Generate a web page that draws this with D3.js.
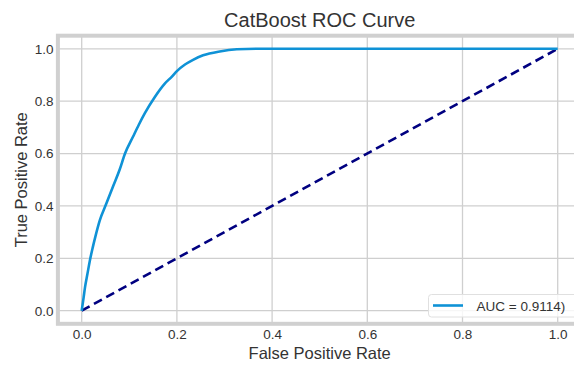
<!DOCTYPE html>
<html>
<head>
<meta charset="utf-8">
<script src="https://cdn.jsdelivr.net/npm/d3@7"></script>
<style>
  body { margin: 0; background: #fff; }
  text { font-family: "Liberation Sans", Arial, sans-serif; fill: #333; }
</style>
</head>
<body>
<div class="container"></div>
<script>
// ROC curve points
const fpr = [0, 0.004, 0.007, 0.012, 0.017, 0.023, 0.029, 0.038, 0.052, 0.066, 0.08, 0.091, 0.108, 0.12, 0.133,
  0.154, 0.175, 0.189, 0.2, 0.217, 0.234, 0.255, 0.29, 0.326, 0.37, 0.5, 1.0];
const tpr = [0, 0.05, 0.09, 0.14, 0.19, 0.24, 0.285, 0.345, 0.41, 0.475, 0.54, 0.6, 0.665, 0.71, 0.755,
  0.817, 0.868, 0.893, 0.915, 0.94, 0.958, 0.975, 0.99, 0.998, 1.0, 1.0, 1.0];
const chanceX = [0, 1];
const chanceY = [0, 1];
const ticks = [0, 0.2, 0.4, 0.6, 0.8, 1.0];
const tickLabels = ["0.0", "0.2", "0.4", "0.6", "0.8", "1.0"];
const legendLabel = "AUC = 0.9114)";

const w = 574;
const h = 365;
const plotLeft = 57.9, plotRight = 581.5, plotTop = 35.7, plotBottom = 323.8;

const xScale = d3.scaleLinear().domain([-0.05, 1.05]).range([plotLeft, plotRight]);
const yScale = d3.scaleLinear().domain([-0.05, 1.05]).range([plotBottom, plotTop]);

const svg = d3.select(".container")
  .append("svg")
  .attr("width", w)
  .attr("height", h);

// grid
svg.append("g")
  .selectAll("line")
  .data(ticks)
  .enter()
  .append("line")
  .attr("x1", d => xScale(d)).attr("x2", d => xScale(d))
  .attr("y1", plotTop).attr("y2", plotBottom)
  .attr("stroke", "#cfcfcf").attr("stroke-width", 1.3);
svg.append("g")
  .selectAll("line")
  .data(ticks)
  .enter()
  .append("line")
  .attr("y1", d => yScale(d)).attr("y2", d => yScale(d))
  .attr("x1", plotLeft).attr("x2", plotRight)
  .attr("stroke", "#cfcfcf").attr("stroke-width", 1.3);

// spines
svg.append("rect")
  .attr("x", plotLeft).attr("y", plotTop)
  .attr("width", plotRight - plotLeft).attr("height", plotBottom - plotTop)
  .attr("fill", "none")
  .attr("stroke", "#d0d0d0")
  .attr("stroke-width", 4);

// ticks
const xAxis = d3.axisBottom(xScale).tickValues(ticks).tickSize(0).tickPadding(4)
  .tickFormat((d, i) => tickLabels[i]);
const yAxis = d3.axisLeft(yScale).tickValues(ticks).tickSize(0).tickPadding(0)
  .tickFormat((d, i) => tickLabels[i]);

const gx = svg.append("g")
  .attr("transform", "translate(0," + (plotBottom + 2) + ")")
  .call(xAxis);
const gy = svg.append("g")
  .attr("transform", "translate(" + (plotLeft - 4.3) + ",0)")
  .call(yAxis);
[gx, gy].forEach(g => {
  g.select(".domain").remove();
  g.selectAll("text")
    .style("font-size", "13.5px")
    .style("font-family", "'Liberation Sans', Arial, sans-serif")
    .attr("fill", "#333");
});

// lines
const rocData = fpr.map((d, i) => [d, tpr[i]]);
const chanceData = chanceX.map((d, i) => [d, chanceY[i]]);
const line = d3.line().x(d => xScale(d[0])).y(d => yScale(d[1])).curve(d3.curveMonotoneX);

svg.append("path")
  .datum(chanceData)
  .attr("d", d3.line().x(d => xScale(d[0])).y(d => yScale(d[1])))
  .attr("fill", "none")
  .attr("stroke", "#000080")
  .attr("stroke-width", 2.6)
  .attr("stroke-dasharray", "9,5");

svg.append("path")
  .datum(rocData)
  .attr("d", line)
  .attr("fill", "none")
  .attr("stroke", "#0f92d6")
  .attr("stroke-width", 2.6);

// title and labels
svg.append("text")
  .attr("x", (plotLeft + plotRight) / 2)
  .attr("y", 27)
  .attr("text-anchor", "middle")
  .style("font-size", "20px")
  .text("CatBoost ROC Curve");

svg.append("text")
  .attr("x", (plotLeft + plotRight) / 2)
  .attr("y", 358.5)
  .attr("text-anchor", "middle")
  .style("font-size", "16.5px")
  .text("False Positive Rate");

svg.append("text")
  .attr("transform", "translate(26.5," + ((plotTop + plotBottom) / 2) + ") rotate(-90)")
  .attr("text-anchor", "middle")
  .style("font-size", "16.5px")
  .text("True Positive Rate");

// legend
const legend = svg.append("g");
legend.append("rect")
  .attr("x", 428.5).attr("y", 294.5)
  .attr("width", 150).attr("height", 22.5)
  .attr("rx", 3)
  .attr("fill", "#fff").attr("fill-opacity", 0.8)
  .attr("stroke", "#e0e0e0");
legend.append("line")
  .attr("x1", 433).attr("x2", 463)
  .attr("y1", 305.5).attr("y2", 305.5)
  .attr("stroke", "#0f92d6").attr("stroke-width", 2.6);
legend.append("text")
  .attr("x", 476.5).attr("y", 310.5)
  .style("font-size", "13.5px")
  .text(legendLabel);
</script>
</body>
</html>
